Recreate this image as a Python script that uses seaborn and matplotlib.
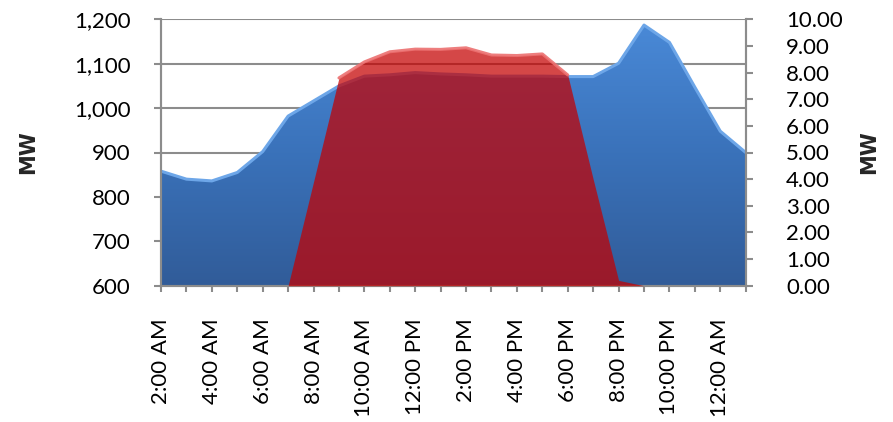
import numpy as np
import matplotlib
matplotlib.use("Agg")
import matplotlib.pyplot as plt
import seaborn as sns
import pandas as pd
from matplotlib.colors import LinearSegmentedColormap

# Hourly profile, 2:00 AM through 1:00 AM
hours = ["2:00 AM", "3:00 AM", "4:00 AM", "5:00 AM", "6:00 AM", "7:00 AM",
         "8:00 AM", "9:00 AM", "10:00 AM", "11:00 AM", "12:00 PM", "1:00 PM",
         "2:00 PM", "3:00 PM", "4:00 PM", "5:00 PM", "6:00 PM", "7:00 PM",
         "8:00 PM", "9:00 PM", "10:00 PM", "11:00 PM", "12:00 AM", "1:00 AM"]

# System load (left axis, MW)
load_mw = [858, 840, 836, 855, 902, 982, 1016, 1050, 1072, 1075, 1080, 1077,
           1075, 1072, 1072, 1072, 1071, 1071, 1101, 1187, 1148, 1047, 948, 900]

# Solar output (right axis, MW)
solar_mw = [0, 0, 0, 0, 0, 0, 3.9, 7.8, 8.4, 8.78, 8.88, 8.87,
            8.93, 8.66, 8.64, 8.70, 7.91, 4.0, 0.2, 0, 0, 0, 0, 0]

left_ticks = [600, 700, 800, 900, 1000, 1100, 1200]
right_ticks = [0, 1, 2, 3, 4, 5, 6, 7, 8, 9, 10]

df = pd.DataFrame({"hour": hours, "load": load_mw, "solar": solar_mw})
df["x"] = np.arange(len(df))

sns.set_style("white")
plt.rcParams["font.family"] = ["Lato", "DejaVu Sans"]

GRAY = "#8C8C8C"
FS = 16
W, H = 893, 422
fig = plt.figure(figsize=(W / 100, H / 100), dpi=100)
L, R, T, B = 161, 745.7, 19.3, 285.7
ax = fig.add_axes([L / W, 1 - B / H, (R - L) / W, (B - T) / H])
ax.set_axisbelow(True)

# Load area with a vertical colour gradient
poly = ax.fill_between(df["x"], df["load"], 600, color="#3B74BC", lw=0, zorder=2)
cmap = LinearSegmentedColormap.from_list("loadgrad", ["#315C99", "#3A72BA", "#4A8AD8"])
grad = np.linspace(0, 1, 256).reshape(-1, 1)
img = ax.imshow(grad, extent=[0, 23, 600, 1200], origin="lower", aspect="auto",
                cmap=cmap, zorder=2.1, interpolation="bicubic")
img.set_clip_path(poly.get_paths()[0], transform=ax.transData)
sns.lineplot(data=df, x="x", y="load", ax=ax, color="#6DA6E8", lw=2.2, zorder=2.2)

ax.set_xlim(0, 23)
ax.set_ylim(600, 1200)
ax.set_yticks(left_ticks)
ax.set_yticklabels([f"{v:,.0f}" for v in left_ticks])
ax.yaxis.grid(True, color=GRAY, lw=1.5)
ax.xaxis.grid(False)

ax.set_xticks(df["x"])
ax.set_xticklabels([h if i % 2 == 0 else "" for i, h in enumerate(hours)],
                   rotation=90, va="top", ha="center")
ax.set_xlabel("")
ax.set_ylabel("")

# Solar area on the secondary axis, semi-transparent over the load
ax2 = ax.twinx()
ax2.fill_between(df["x"], df["solar"], 0, color="#C40000", alpha=0.72, lw=0, zorder=3)
top = df[df["solar"] > 7]
sns.lineplot(data=top, x="x", y="solar", ax=ax2, color="#EC7070", lw=2.2, alpha=0.9, zorder=3.1)
ax2.set_ylim(0, 10)
ax2.set_xlim(0, 23)
ax2.set_yticks(right_ticks)
ax2.set_yticklabels([f"{v:.2f}" for v in right_ticks])
ax2.set_ylabel("")
ax2.grid(False)

for a in (ax, ax2):
    for s in a.spines.values():
        s.set_color(GRAY)
        s.set_linewidth(1.5)
    a.spines["top"].set_visible(False)

ax.tick_params(axis="y", which="both", left=True, length=5, width=1.5, color=GRAY,
               pad=17, labelsize=FS, labelcolor="black")
ax.tick_params(axis="x", bottom=True, length=4.5, width=1.5, color=GRAY,
               pad=19, labelsize=FS, labelcolor="black")
ax2.tick_params(axis="y", right=True, length=5, width=1.5, color=GRAY,
                pad=24, labelsize=FS, labelcolor="black")

for xpos in (28, 869):
    fig.text(xpos / W, 1 - 152 / H, "MW", rotation=90, ha="center", va="center",
             fontsize=15, fontweight="bold", fontfamily="DejaVu Sans")

fig.savefig("out.png", dpi=100)
